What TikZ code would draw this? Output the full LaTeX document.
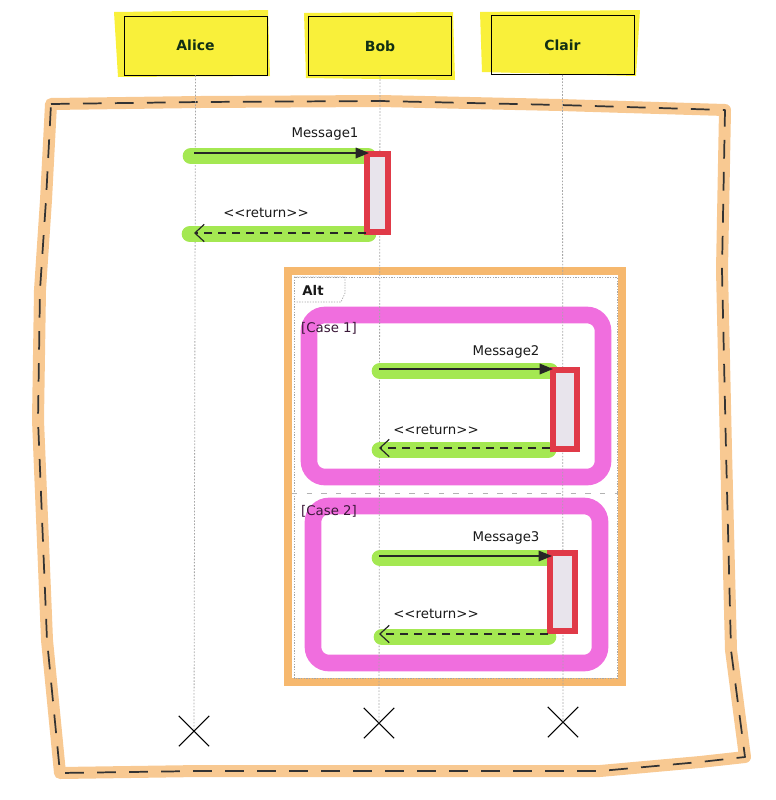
\documentclass[tikz,border=0pt]{standalone}
\usepackage{fontspec}
\setmainfont{DejaVu Sans}
\usetikzlibrary{arrows.meta,shapes.misc}
\definecolor{hl}{HTML}{F9F03A}
\definecolor{grn}{HTML}{A4E852}
\definecolor{pnk}{HTML}{F06EDE}
\definecolor{org}{HTML}{F8C992}
\definecolor{altorg}{HTML}{F6B86E}
\definecolor{actred}{HTML}{E03A48}
\definecolor{actfill}{HTML}{E8E4EC}
\definecolor{hdrtxt}{HTML}{123014}
\definecolor{casetxt}{HTML}{3A1838}
\begin{document}
\begin{tikzpicture}[x=0.75pt,y=-0.75pt,
  hdr/.style={draw=black, line width=0.7pt, minimum width=107.25pt, minimum height=44.25pt,
    font=\bfseries\fontsize{10.5}{12}\selectfont, text=hdrtxt, inner sep=0pt},
  lbl/.style={font=\fontsize{10}{12}\selectfont, inner sep=0pt, text=black!90},
  caselbl/.style={font=\fontsize{10}{12}\selectfont, inner sep=0pt, text=casetxt},
  life/.style={draw=gray!70, line width=0.6pt, dash pattern=on 1.2pt off 1.2pt},
  hlg/.style={draw=grn, line width=12.5pt, line cap=round},
  msg/.style={draw=black!85, line width=0.9pt, -{Triangle[length=10pt,width=8pt]}},
  ret/.style={draw=black!85, line width=0.9pt, dash pattern=on 6pt off 4.5pt, -{Straight Barb[length=7pt,width=13pt]}},
  act/.style={draw=actred, line width=4.5pt, fill=actfill, inner sep=0pt},
  casebox/.style={draw=pnk, line width=12.5pt, rounded corners=12pt},
  xm/.style={draw=black, line width=0.8pt, cross out, minimum size=22pt, inner sep=0pt}]
\useasboundingbox (0,0) rectangle (775,800);

% outer hand-drawn frame
\def\outerpath{(51,104) -- (200,102) -- (380,101) -- (560,105) -- (725,110) -- (722,270) -- (726,450) -- (731,650) -- (745,757) -- (700,762) -- (600,771) -- (400,771) -- (200,771) -- (60,773) -- (47,640) -- (38,420) -- (40,290) -- (46,200) -- cycle}
\draw[org, line width=9pt, line join=round] \outerpath;
\draw[black!80, line width=1.3pt, dash pattern=on 14pt off 10pt, line join=round] \outerpath;

% alt frame
\draw[altorg, line width=6.5pt] (288,271) rectangle (622,682);
\draw[gray!70, line width=0.5pt, dash pattern=on 1pt off 1pt] (294,277) rectangle (617,678);
\draw[gray!70, line width=0.5pt, dash pattern=on 1pt off 1pt] (294,277) -- (345,277) -- (345,293) -- (341,302) -- (294,302);
\draw[gray!60, line width=0.6pt, dash pattern=on 4pt off 7pt] (292,493) -- (618,493);

% case boxes
\draw[casebox] (309,315) rectangle (603,477);
\draw[casebox] (313,506) rectangle (600,663);

% headers (yellow highlight)
\fill[hl] (114,12) -- (268,10) -- (270,76) -- (118,77) -- cycle;
\fill[hl] (304,13) -- (453,12) -- (455,80) -- (306,78) -- cycle;
\fill[hl] (480,12) -- (640,10) -- (636,76) -- (482,72) -- cycle;
\node[hdr] (alice) at (195.5,45.5) {Alice};
\node[hdr] (bob) at (380,46) {Bob};
\node[hdr] (clair) at (562.5,45) {Clair};

% destruction marks
\node[xm] (xa) at (194,731) {};
\node[xm] (xb) at (379,723) {};
\node[xm] (xc) at (563,722) {};

% lifelines
\draw[life] (alice.south) -- (xa.center);
\draw[life] (bob.south) -- (xb.center);
\draw[life] (clair.south) -- (xc.center);

% green highlights
\draw[hlg] (191,156) -- (368,156);
\draw[hlg] (190,234) -- (368,234);
\draw[hlg] (380,371) -- (550,371);
\draw[hlg] (380,450) -- (548,450);
\draw[hlg] (380,558) -- (546,558);
\draw[hlg] (382,637) -- (548,637);

% activations
\node[act, minimum width=15.75pt, minimum height=58.5pt] (act1) at (377.5,193) {};
\node[act, minimum width=18pt, minimum height=59.25pt] (act2) at (565,409.5) {};
\node[act, minimum width=18.75pt, minimum height=58.5pt] (act3) at (562.5,592) {};

% arrow end points
\coordinate (m1s) at (194,153); \coordinate (m1e) at (369,153);
\coordinate (r1s) at (366,233); \coordinate (r1e) at (194,233);
\coordinate (m2s) at (379,369); \coordinate (m2e) at (553,369);
\coordinate (r2s) at (550,448); \coordinate (r2e) at (379,448);
\coordinate (m3s) at (379,556); \coordinate (m3e) at (552,556);
\coordinate (r3s) at (548,634); \coordinate (r3e) at (379,634);

\draw[msg] (m1s) -- (m1e);
\draw[ret] (r1s) -- (r1e);
\draw[msg] (m2s) -- (m2e);
\draw[ret] (r2s) -- (r2e);
\draw[msg] (m3s) -- (m3e);
\draw[ret] (r3s) -- (r3e);

% labels
\node[lbl] (l1) at (325,134) {Message1};
\node[lbl] (l2) at (266,213) {{<}{<}return{>}{>}};
\node[lbl] (l3) at (506,352) {Message2};
\node[lbl] (l4) at (436,430) {{<}{<}return{>}{>}};
\node[lbl] (l5) at (506,538) {Message3};
\node[lbl] (l6) at (436,614) {{<}{<}return{>}{>}};
\node[lbl, font=\bfseries\fontsize{10}{12}\selectfont] (alt) at (313,290) {Alt};
\node[caselbl] (c1) at (329,328) {[Case 1]};
\node[caselbl] (c2) at (329,511) {[Case 2]};
\end{tikzpicture}
\end{document}
